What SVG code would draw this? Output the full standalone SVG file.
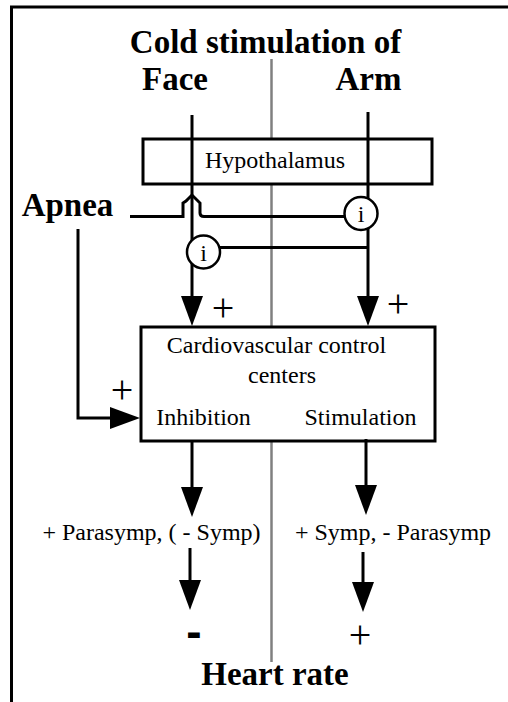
<svg xmlns="http://www.w3.org/2000/svg" width="508" height="702" viewBox="0 0 508 702">
<style>
.bg{fill:#fff}
.frame{fill:none;stroke:#000;stroke-width:3}
.gray{fill:none;stroke:#808080;stroke-width:2.5}
.box{fill:#fff;stroke:#000;stroke-width:3}
.ln{fill:none;stroke:#000;stroke-width:3}
.circ{fill:#fff;stroke:#000;stroke-width:2.5}
.t{font-family:"Liberation Serif","Times New Roman",serif;font-size:24px;fill:#000;text-anchor:middle}
.b{font-family:"Liberation Serif","Times New Roman",serif;font-size:33px;font-weight:bold;fill:#000;text-anchor:middle}
.s{font-family:"Liberation Serif","Times New Roman",serif;font-size:40px;fill:#000;text-anchor:middle}
.sb{font-family:"Liberation Sans",Arial,sans-serif;font-size:46px;font-weight:bold;fill:#000;text-anchor:middle}
</style>
<defs>
<marker id="ah" viewBox="0 0 30 22" refX="20" refY="11" markerWidth="30" markerHeight="22" markerUnits="userSpaceOnUse" orient="auto">
<path d="M0,0 L30,11 L0,22 Z" fill="#000"/>
</marker>
</defs>
<rect class="bg" x="0" y="0" width="508" height="702"/>
<path class="frame" d="M11.5,702 V7 H508"/>
<line class="gray" x1="271.5" y1="59" x2="271.5" y2="662"/>

<g id="title">
<text class="b" x="265.5" y="53">Cold stimulation of</text>
<text class="b" x="175" y="90">Face</text>
<text class="b" x="368.5" y="90">Arm</text>
</g>

<g id="hypothalamus">
<rect class="box" x="143" y="139" width="289" height="45"/>
<text class="t" x="275" y="168">Hypothalamus</text>
</g>

<g id="cardio">
<rect class="box" x="141" y="327" width="294" height="114"/>
<text class="t" x="276.5" y="353">Cardiovascular control</text>
<text class="t" x="282" y="383">centers</text>
<text class="t" x="203.5" y="425">Inhibition</text>
<text class="t" x="360.5" y="425">Stimulation</text>
</g>

<g id="connectors">
<path class="ln" d="M192,115 V316" marker-end="url(#ah)"/>
<path class="ln" d="M368,112 V316" marker-end="url(#ah)"/>
<path class="ln" d="M130,216.5 H183 V203 L186,201 L192,195 L200,203 V213 Q200,216.5 204,216.5 H345"/>
<path class="ln" d="M220,247.5 H368"/>
<path class="ln" d="M78,229 V418 H130" marker-end="url(#ah)"/>
<path class="ln" d="M192,441 V507" marker-end="url(#ah)"/>
<path class="ln" d="M366,439 V505" marker-end="url(#ah)"/>
<path class="ln" d="M190,548 V600" marker-end="url(#ah)"/>
<path class="ln" d="M363,552 V602" marker-end="url(#ah)"/>
</g>

<g id="inhib-arm">
<circle class="circ" cx="361" cy="213.5" r="16.5"/>
<text class="t" x="361" y="222">i</text>
</g>
<g id="inhib-face">
<circle class="circ" cx="203.5" cy="252" r="16.5"/>
<text class="t" x="203.5" y="260.5">i</text>
</g>

<g id="apnea">
<text class="b" x="67.5" y="216">Apnea</text>
</g>

<g id="signs">
<text class="s" x="223" y="321">+</text>
<text class="s" x="398" y="317">+</text>
<text class="s" x="122" y="403">+</text>
</g>

<g id="outputs">
<text class="t" x="151.5" y="540">+ Parasymp, ( - Symp)</text>
<text class="t" x="393" y="540">+ Symp, - Parasymp</text>
</g>

<g id="heart">
<text class="sb" x="194" y="647">-</text>
<text class="s" x="360" y="648">+</text>
<text class="b" x="275" y="685">Heart rate</text>
</g>
</svg>
